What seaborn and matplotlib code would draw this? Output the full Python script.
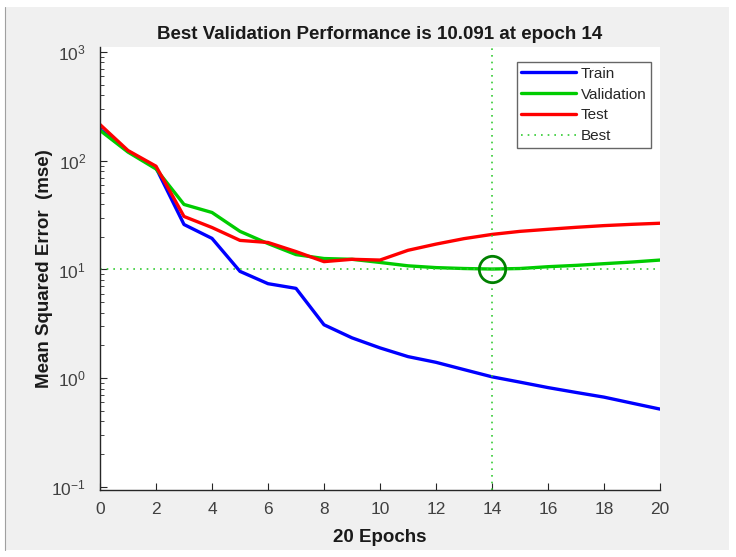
import matplotlib
matplotlib.use("Agg")
import matplotlib.pyplot as plt
import seaborn as sns
import pandas as pd
from matplotlib.patches import Rectangle
from matplotlib.lines import Line2D

# values
epochs = list(range(21))
train = [194, 122, 86, 25.9, 19.3, 9.6, 7.4, 6.7, 3.1, 2.35, 1.9,
         1.58, 1.40, 1.2, 1.03, 0.92, 0.82, 0.74, 0.67, 0.59, 0.52]
validation = [190, 120, 84, 39.6, 33.4, 22.4, 17.3, 13.7, 12.6, 12.4, 11.6,
              10.8, 10.4, 10.2, 10.091, 10.2, 10.6, 10.9, 11.3, 11.7, 12.2]
test = [215, 124, 89, 30.7, 24.3, 18.5, 17.7, 14.6, 11.8, 12.4, 12.2,
        15.0, 17.1, 19.2, 21.0, 22.4, 23.4, 24.4, 25.3, 26.0, 26.6]
best_epoch = 14
best_perf = 10.091

df = pd.DataFrame({"Epoch": epochs, "Train": train,
                   "Validation": validation, "Test": test})

sns.set_style("white")
plt.rcParams['font.family'] = ['Liberation Sans', 'DejaVu Sans']
plt.rcParams['mathtext.default'] = 'regular'

fig = plt.figure(figsize=(7.36, 5.57), dpi=100)
fig.patch.set_facecolor('white')
fig.patches.append(Rectangle((5 / 736, 1 - 550 / 557), 724 / 736, 543 / 557,
                             transform=fig.transFigure, facecolor='#f0f0f0',
                             edgecolor='none', zorder=-10))
fig.lines.append(Line2D([5 / 736, 5 / 736], [1 - 550 / 557, 1 - 7 / 557],
                        transform=fig.transFigure, color='#a0a0a0', lw=0.8,
                        zorder=-9))

ax = fig.add_axes([100 / 736, 1 - 490 / 557, 560 / 736, 443 / 557])
ax.set_facecolor('white')

lw = 2.4
sns.lineplot(data=df, x="Epoch", y="Train", color=(0, 0, 1), lw=lw, label="Train", ax=ax)
sns.lineplot(data=df, x="Epoch", y="Validation", color=(0, 0.8, 0), lw=lw, label="Validation", ax=ax)
sns.lineplot(data=df, x="Epoch", y="Test", color=(1, 0, 0), lw=lw, label="Test", ax=ax)
ax.axhline(best_perf, color=(0.2, 0.8, 0.2), ls=(0, (1, 3)), lw=1.2, label="Best")
ax.axvline(best_epoch, color=(0.2, 0.8, 0.2), ls=(0, (1, 3)), lw=1.2)
ax.plot([best_epoch], [best_perf], 'o', ms=19, mfc='none', mec=(0, 0.5, 0), mew=2)

ax.set_yscale('log')
ax.set_xlim(0, 20)
ax.set_ylim(0.0938, 1110)
ax.set_xticks(range(0, 21, 2))

for s in ['top', 'right']:
    ax.spines[s].set_visible(False)
for s in ['left', 'bottom']:
    ax.spines[s].set_color('#262626')
    ax.spines[s].set_linewidth(1.0)
ax.tick_params(which='major', direction='in', length=5, color='#262626',
               labelsize=12.5, labelcolor='#404040', left=True, bottom=True)
ax.tick_params(which='minor', direction='in', length=3, color='#262626', left=True)
ax.tick_params(axis='x', pad=9)
ax.tick_params(axis='y', pad=10)

ax.set_title("Best Validation Performance is 10.091 at epoch 14",
             fontsize=13.5, fontweight='bold', color='#1a1a1a', pad=6)
ax.set_xlabel("20 Epochs", fontsize=13.5, fontweight='bold', color='#1a1a1a', labelpad=8)
ax.set_ylabel("Mean Squared Error  (mse)", fontsize=13.5, fontweight='bold',
              color='#1a1a1a')
ax.yaxis.set_label_coords(-0.084, 0.5)

leg = ax.legend(loc='upper right', bbox_to_anchor=(0.984, 0.966), fontsize=11,
                frameon=True, fancybox=False, handlelength=3.6, handletextpad=0.3,
                borderpad=0.3, labelspacing=0.45, borderaxespad=0)
leg.get_frame().set_edgecolor('#404040')
leg.get_frame().set_linewidth(1.0)

fig.savefig("out.png", dpi=100, facecolor=fig.get_facecolor())
